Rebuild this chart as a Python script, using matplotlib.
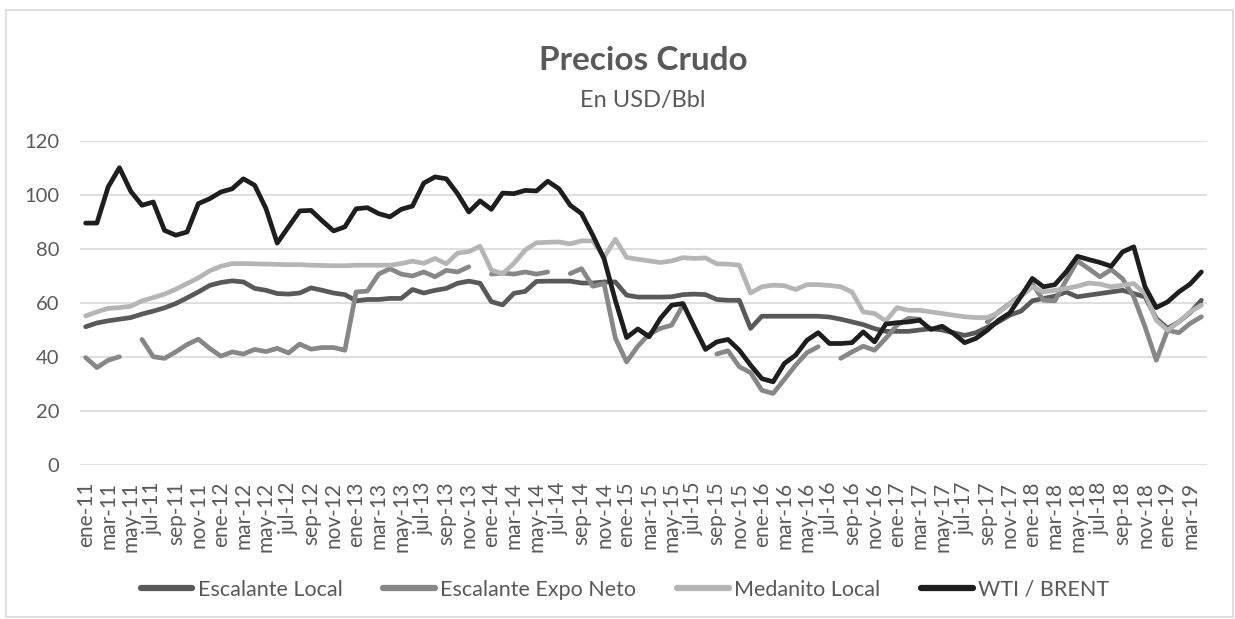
import numpy as np
import matplotlib
matplotlib.use("Agg")
import matplotlib.pyplot as plt
from matplotlib.patches import Rectangle

plt.rcParams['font.family'] = ['Lato', 'DejaVu Sans']

nan = np.nan

meses = ['ene', 'feb', 'mar', 'abr', 'may', 'jun', 'jul', 'ago', 'sep', 'oct', 'nov', 'dic']
anios = ['11', '12', '13', '14', '15', '16', '17', '18', '19']
categorias = [m + '-' + a for a in anios for m in meses][:100]   # ene-11 .. abr-19

escalante_local = [51.2, 52.6, 53.4, 54.0, 54.6, 55.9, 57.0, 58.2, 59.8, 61.9,
                   64.1, 66.5, 67.6, 68.2, 67.8, 65.4, 64.7, 63.5, 63.3, 63.7,
                   65.6, 64.7, 63.7, 63.1, 60.8, 61.3, 61.3, 61.7, 61.7, 65.0,
                   63.7, 64.7, 65.4, 67.3, 68.1, 67.3, 60.5, 59.3, 63.6, 64.3,
                   68.0, 68.1, 68.1, 68.1, 67.4, 67.4, 67.8, 67.8, 62.9, 62.2,
                   62.2, 62.2, 62.3, 63.1, 63.3, 63.1, 61.3, 61.0, 61.0, 50.6,
                   55.1, 55.1, 55.1, 55.1, 55.1, 55.1, 54.8, 54.0, 53.0, 52.0,
                   50.5, 49.5, 49.5, 49.5, 50.0, 50.5, 50.0, 49.0, 48.0, 49.0,
                   51.0, 53.0, 55.5, 57.0, 60.8, 61.7, 62.5, 64.1, 62.3, 62.9,
                   63.5, 64.1, 64.7, 63.5, 62.3, 54.3, 50.6, 53.0, 56.4, 61.0]

escalante_expo = [39.8, 36.1, 38.8, 40.1, nan, 46.5, 40.1, 39.5, 41.9, 44.6,
                  46.6, 43.2, 40.3, 41.9, 41.1, 42.8, 42.0, 43.2, 41.5, 44.8,
                  42.9, 43.5, 43.5, 42.5, 64.1, 64.4, 70.7, 72.7, 70.7, 70.0,
                  71.5, 69.7, 72.1, 71.5, 73.4, nan, 70.7, 71.1, 70.7, 71.5,
                  70.7, 71.5, nan, 70.9, 72.7, 66.2, 67.2, 47.0, 38.2, 44.0,
                  48.5, 50.6, 51.8, 59.2, nan, nan, 41.1, 42.3, 36.4, 34.2,
                  27.7, 26.5, 31.7, 37.0, 41.6, 43.8, nan, 39.5, 41.9, 44.0,
                  42.5, 46.9, 51.8, 54.3, 54.0, nan, nan, nan, nan, nan,
                  53.0, 56.7, 59.8, 63.0, 67.0, 61.0, 60.8, 68.4, 75.6, 72.7,
                  69.7, 72.4, 69.0, 62.3, 51.2, 38.8, 49.9, 49.0, 52.4, 54.9]

medanito_local = [55.2, 56.7, 58.0, 58.3, 58.8, 60.8, 62.0, 63.3, 65.1, 67.2,
                  69.3, 71.9, 73.6, 74.6, 74.6, 74.5, 74.4, 74.3, 74.2, 74.2,
                  74.0, 73.9, 73.8, 73.8, 74.0, 74.0, 74.0, 74.0, 74.6, 75.5,
                  74.7, 76.5, 74.5, 78.5, 79.0, 81.0, 72.2, 70.8, 74.7, 79.6,
                  82.3, 82.5, 82.6, 81.9, 83.0, 83.0, 77.0, 83.6, 76.9, 76.2,
                  75.6, 75.0, 75.6, 76.8, 76.5, 76.7, 74.5, 74.4, 74.0, 63.7,
                  66.0, 66.6, 66.4, 65.0, 66.8, 66.8, 66.5, 66.0, 64.1, 56.7,
                  56.1, 53.4, 58.3, 57.3, 57.3, 56.7, 56.1, 55.5, 54.9, 54.6,
                  54.6, 56.4, 59.8, 62.5, 66.0, 64.1, 64.7, 65.4, 66.2, 67.4,
                  67.0, 66.0, 66.6, 67.2, 63.5, 53.6, 49.9, 53.0, 56.7, 59.2]

wti_brent = [89.6, 89.6, 103.0, 110.1, 101.4, 96.2, 97.4, 86.9, 85.1, 86.3,
             96.8, 98.6, 101.1, 102.3, 106.0, 103.6, 95.0, 82.2, 88.2, 94.1,
             94.3, 90.4, 86.7, 88.2, 94.9, 95.3, 93.1, 91.9, 94.7, 95.9,
             104.4, 106.7, 106.0, 100.5, 93.7, 97.8, 94.7, 100.7, 100.5, 101.7,
             101.5, 105.1, 102.3, 96.2, 93.1, 85.1, 76.4, 61.0, 47.2, 50.4,
             47.5, 54.3, 59.2, 59.8, 51.2, 42.8, 45.6, 46.5, 42.5, 37.0,
             32.0, 30.8, 37.6, 40.7, 46.2, 49.0, 45.0, 45.0, 45.3, 49.3,
             45.6, 52.2, 52.7, 53.0, 53.6, 50.2, 51.4, 48.7, 45.3, 46.9,
             49.9, 53.6, 56.3, 62.5, 69.1, 66.0, 66.8, 71.5, 77.3, 76.1,
             75.0, 73.6, 78.9, 80.8, 66.0, 58.3, 60.4, 64.1, 67.0, 71.5]

series = [
    ('Escalante Local', escalante_local, '#595959'),
    ('Escalante Expo Neto', escalante_expo, '#878787'),
    ('Medanito Local', medanito_local, '#b5b5b5'),
    ('WTI / BRENT', wti_brent, '#1e1e1e'),
]

fig = plt.figure(figsize=(12.35, 6.19), dpi=100)
W, H = 1235, 619

# marco del grafico
fig.patches.append(Rectangle((6 / W, 1 - 617 / H), 1227 / W, 607 / H,
                             transform=fig.transFigure, fill=False,
                             edgecolor='#d9d9d9', linewidth=1.2))

ax = fig.add_axes([80 / W, 1 - 465 / H, 1127 / W, 324 / H])

x = np.arange(len(categorias))
for nombre, vals, color in series:
    ax.plot(x, vals, color=color, linewidth=3.4, label=nombre,
            solid_capstyle='round', solid_joinstyle='round')

ax.set_xlim(-0.5, len(categorias) - 0.5)
ax.set_ylim(0, 120)
ax.set_yticks(range(0, 121, 20))
ax.yaxis.grid(True, color='#d9d9d9', linewidth=1.2)
ax.set_axisbelow(True)
for s in ['top', 'right', 'left', 'bottom']:
    ax.spines[s].set_visible(False)

ax.set_xticks(x[::2])
ax.set_xticklabels(categorias[::2], rotation=90)
ax.tick_params(axis='both', length=0, labelcolor='#595959')
ax.tick_params(axis='y', pad=15, labelsize=14.5)
ax.tick_params(axis='x', pad=12, labelsize=15)

fig.text(643 / W, 1 - 60 / H, 'Precios Crudo', ha='center', va='center',
         fontsize=24, fontweight='bold', color='#595959')
fig.text(643 / W, 1 - 100 / H, 'En USD/Bbl', ha='center', va='center',
         fontsize=17, color='#595959')

leg = fig.legend(loc='center', bbox_to_anchor=(625 / W, 1 - 590 / H), ncol=4,
                 frameon=False, fontsize=15.5, handlelength=2.4,
                 handletextpad=0.25, columnspacing=1.9)
for t in leg.get_texts():
    t.set_color('#595959')
for l in leg.get_lines():
    l.set_linewidth(4.5)

fig.savefig('out.png', dpi=100)
